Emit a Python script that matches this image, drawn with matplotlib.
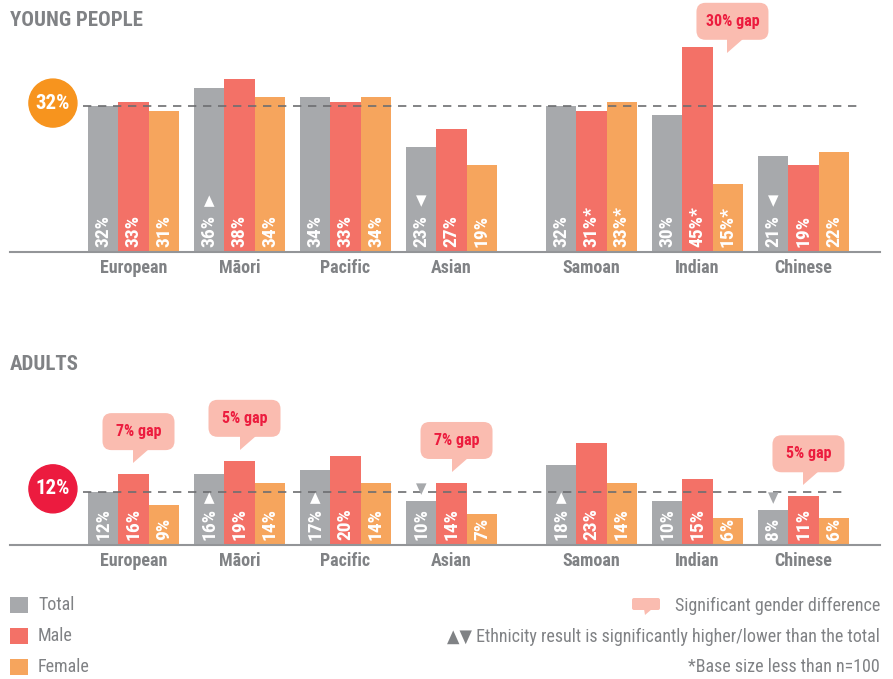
import matplotlib
matplotlib.use("Agg")
import matplotlib.pyplot as plt
from matplotlib import font_manager
from matplotlib.patches import FancyBboxPatch, Polygon, Circle, Rectangle
from matplotlib.transforms import Affine2D, ScaledTranslation
import numpy as np

# ---- data ----
ethnicities = ["European", "Māori", "Pacific", "Asian", "Samoan", "Indian", "Chinese"]
group_pos = [0, 1, 2, 3, 4.32, 5.32, 6.32]

young_total = [32, 36, 34, 23, 32, 30, 21]
young_male = [33, 38, 33, 27, 31, 45, 19]
young_female = [31, 34, 34, 19, 33, 15, 22]
young_avg = 32
young_marks = {"Māori": "▲", "Asian": "▼", "Chinese": "▼"}
young_small_base = ["Samoan", "Indian"]
young_gaps = {"Indian": "30% gap"}

adult_total = [12, 16, 17, 10, 18, 10, 8]
adult_male = [16, 19, 20, 14, 23, 15, 11]
adult_female = [9, 14, 14, 7, 14, 6, 6]
adult_avg = 12
adult_marks = {"Māori": "▲", "Pacific": "▲", "Samoan": "▲", "Asian": "▼", "Chinese": "▼"}
adult_small_base = []
adult_gaps = {"European": "7% gap", "Māori": "5% gap", "Asian": "7% gap", "Chinese": "5% gap"}

legend_series = ["Total", "Male", "Female"]
legend_notes = ["Significant gender difference",
                "▲▼ Ethnicity result is significantly higher/lower than the total",
                "*Base size less than n=100"]

# ---- style ----
GREY = "#a7a9ac"
RED = "#f37167"
ORANGE = "#f6a55d"
TXT_GREY = "#808285"
BUBBLE = "#fabcb0"
BUBBLE_TXT = "#ec1c3e"

names = {f.name for f in font_manager.fontManager.ttflist}
COND = "DejaVu Sans"
for cand in ["Liberation Sans Narrow", "Roboto Condensed", "Open Sans Condensed", "Noto Sans Condensed"]:
    if cand in names:
        COND = cand
        break
plt.rcParams["font.family"] = [COND, "DejaVu Sans"]
plt.rcParams["font.stretch"] = "condensed"

W, H = 893, 679
fig = plt.figure(figsize=(W / 100, H / 100), dpi=100)
# pixel coords measured from top-left of the figure
px = Affine2D().scale(1, -1).translate(0, H).scale(0.01) + fig.dpi_scale_trans

bw = 0.287
xlim = (-1.165, 7.042)


def panel(top, base, ppu, total, male, female, avg, avg_color, marks, small_base, gaps,
          tri_off, tip_dx, tip_dy, dash_end):
    ymax = (base - top) / ppu
    ax = fig.add_axes([10 / W, 1 - base / H, 870 / W, (base - top) / H])
    ax.set_xlim(*xlim)
    ax.set_ylim(0, ymax)
    for s in ["top", "right", "left"]:
        ax.spines[s].set_visible(False)
    ax.spines["bottom"].set_color("#939598")
    ax.spines["bottom"].set_linewidth(1.5)
    ax.set_yticks([])
    ax.set_xticks(group_pos)
    ax.set_xticklabels(ethnicities, fontsize=13, fontweight="bold", color=TXT_GREY)
    ax.tick_params(axis="x", length=0, pad=5)

    x = np.array(group_pos)
    series = [(-bw, total, GREY, False), (0, male, RED, True), (bw, female, ORANGE, True)]
    for off, vals, col, gendered in series:
        ax.bar(x + off, vals, bw, color=col, linewidth=0, zorder=2)
        for name, xi, v in zip(ethnicities, x + off, vals):
            lab = f"{v}%" + ("*" if gendered and name in small_base else "")
            ax.annotate(lab, (xi, 0), xytext=(0, 3.5), textcoords="offset points",
                        rotation=90, ha="center", va="bottom", color="white",
                        fontsize=14, fontweight="bold", zorder=4)

    for name, sym in marks.items():
        i = ethnicities.index(name)
        xi = x[i] - bw
        if total[i] * ppu > 60:
            ax.annotate(sym, (xi, 0), xytext=(0, tri_off * 0.72), textcoords="offset points",
                        ha="center", va="center", color="white", fontsize=11,
                        family="DejaVu Sans", zorder=4)
        else:
            ax.annotate(sym, (xi, total[i]), xytext=(0, 12 * 0.72), textcoords="offset points",
                        ha="center", va="center", color=GREY, fontsize=11,
                        family="DejaVu Sans", zorder=4)

    # average line and badge
    ax.plot([-0.476, dash_end], [avg, avg], ls=(0, (5, 4)), color="#6d6e71", lw=1.2, zorder=3)
    tr = fig.dpi_scale_trans + ScaledTranslation(-0.76, avg, ax.transData)
    ax.add_patch(Circle((0, 0.03), 0.24, color=avg_color, transform=tr, clip_on=False, zorder=5))
    ax.text(0, 0.03, f"{avg}%", transform=tr, ha="center", va="center", color="white",
            fontsize=15, fontweight="bold", zorder=6)

    # gender gap callouts
    for name, txt in gaps.items():
        i = ethnicities.index(name)
        tr = fig.dpi_scale_trans + ScaledTranslation(x[i], male[i], ax.transData)
        tx, ty = tip_dx / 100, tip_dy / 100
        bx = tx + 0.05 - 0.36
        by = ty + 0.13
        ax.add_patch(FancyBboxPatch((bx, by), 0.72, 0.37, boxstyle="round,pad=0,rounding_size=0.09",
                                    fc=BUBBLE, ec="none", transform=tr, clip_on=False, zorder=5))
        ax.add_patch(Polygon([(tx, ty), (tx, by + 0.01), (tx + 0.16, by + 0.01)], closed=True,
                             fc=BUBBLE, ec="none", transform=tr, clip_on=False, zorder=5))
        ax.text(bx + 0.36, by + 0.185, txt, transform=tr, ha="center", va="center",
                color=BUBBLE_TXT, fontsize=11.5, fontweight="bold", zorder=6)
    return ax


panel(10, 252, 4.56, young_total, young_male, young_female, young_avg, "#f7941e",
      young_marks, young_small_base, young_gaps, tri_off=51, tip_dx=30, tip_dy=-6, dash_end=6.835)
panel(380, 545, 4.43, adult_total, adult_male, adult_female, adult_avg, "#ec1b3f",
      adult_marks, adult_small_base, adult_gaps, tri_off=47, tip_dx=0, tip_dy=11, dash_end=6.69)

# panel titles
fig.text(10 / W, 1 - 21 / H, "YOUNG PEOPLE", fontsize=15, fontweight="bold", color=TXT_GREY, va="center")
fig.text(10 / W, 1 - 364 / H, "ADULTS", fontsize=15, fontweight="bold", color=TXT_GREY, va="center")

# legend
for lab, col, yc in zip(legend_series, [GREY, RED, ORANGE], [605, 636, 667]):
    fig.patches.append(Rectangle((10, yc - 8), 18, 16, fc=col, ec="none", transform=px))
    fig.text(38 / W, 1 - yc / H, lab, fontsize=13, color=TXT_GREY, va="center")
for lab, yc in zip(legend_notes, [606, 637, 667]):
    fig.text(880 / W, 1 - yc / H, lab, fontsize=13, color=TXT_GREY, va="center", ha="right",
             family=[COND, "DejaVu Sans"])
# bubble icon for the first note
fig.patches.append(FancyBboxPatch((632, 598), 28, 12, boxstyle="round,pad=0,rounding_size=2",
                                  fc=BUBBLE, ec="none", transform=px))
fig.patches.append(Polygon([(644, 609), (652, 609), (645, 615)], closed=True, fc=BUBBLE, ec="none",
                           transform=px))

fig.savefig("out.png", dpi=100)
